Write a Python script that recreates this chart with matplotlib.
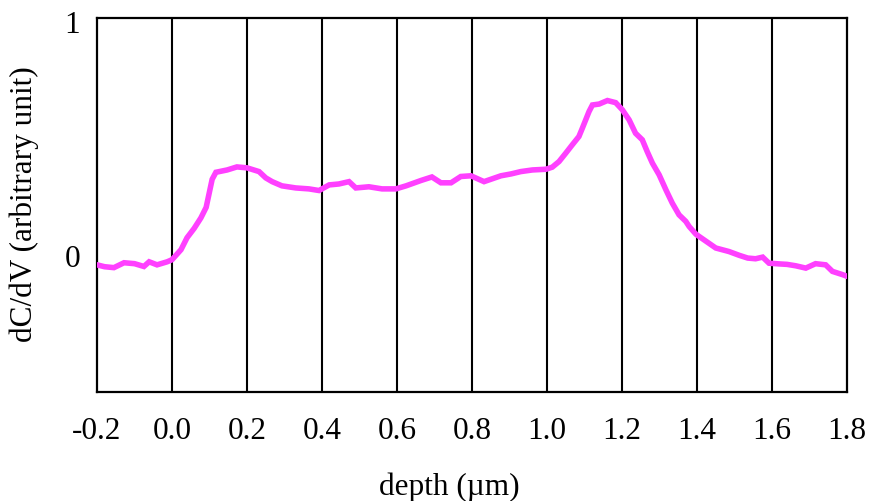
import matplotlib
matplotlib.use("Agg")
import matplotlib.pyplot as plt
import matplotlib.transforms as mtransforms

# C-V profile derivative versus depth
depth_um = [
    -0.200, -0.180, -0.155, -0.128, -0.100, -0.075, -0.061, -0.040, -0.013, 0.000,
    0.024, 0.040, 0.059, 0.077, 0.091, 0.099, 0.107, 0.117, 0.147, 0.173,
    0.200, 0.232, 0.250, 0.267, 0.293, 0.330, 0.365, 0.392, 0.419, 0.445,
    0.472, 0.490, 0.525, 0.560, 0.597, 0.624, 0.664, 0.693, 0.717, 0.744,
    0.770, 0.797, 0.832, 0.877, 0.904, 0.930, 0.961, 0.997, 1.014, 1.032,
    1.050, 1.067, 1.085, 1.094, 1.103, 1.112, 1.121, 1.139, 1.161, 1.183,
    1.201, 1.219, 1.236, 1.254, 1.267, 1.281, 1.299, 1.317, 1.334, 1.352,
    1.370, 1.379, 1.397, 1.423, 1.450, 1.485, 1.512, 1.535, 1.556, 1.575,
    1.592, 1.619, 1.640, 1.663, 1.690, 1.716, 1.743, 1.761, 1.788, 1.800,
]
dcdv = [
    -0.056, -0.064, -0.068, -0.047, -0.051, -0.063, -0.043, -0.056, -0.043, -0.034,
    0.009, 0.060, 0.100, 0.145, 0.190, 0.250, 0.310, 0.340, 0.350, 0.363,
    0.359, 0.343, 0.316, 0.300, 0.282, 0.273, 0.269, 0.262, 0.286, 0.290,
    0.300, 0.273, 0.278, 0.269, 0.269, 0.282, 0.305, 0.320, 0.295, 0.295,
    0.322, 0.325, 0.300, 0.325, 0.333, 0.343, 0.350, 0.353, 0.362, 0.386,
    0.422, 0.457, 0.493, 0.528, 0.564, 0.600, 0.628, 0.632, 0.647, 0.638,
    0.607, 0.564, 0.507, 0.479, 0.429, 0.379, 0.329, 0.265, 0.208, 0.158,
    0.130, 0.108, 0.075, 0.046, 0.016, 0.001, -0.015, -0.027, -0.030, -0.023,
    -0.049, -0.052, -0.054, -0.060, -0.070, -0.051, -0.056, -0.084, -0.098, -0.105,
]

x_ticks = [-0.2, 0.0, 0.2, 0.4, 0.6, 0.8, 1.0, 1.2, 1.4, 1.6, 1.8]
x_tick_labels = ["-0.2", "0.0", "0.2", "0.4", "0.6", "0.8", "1.0", "1.2", "1.4", "1.6", "1.8"]
y_ticks = [0, 1]
y_tick_labels = ["0", "1"]

plt.rcParams["font.family"] = ["Liberation Serif", "DejaVu Serif"]
FS = 22.5

fig = plt.figure(figsize=(8.71, 5.01), dpi=100)
ax = fig.add_axes([0.1114, 0.2176, 0.8611, 0.7464])

# vertical grid lines
for xv in x_ticks[1:-1]:
    ax.axvline(xv, color="black", linewidth=1.5, zorder=1)

ax.plot(depth_um, dcdv, color="#ff40ff", linewidth=4.0, zorder=3,
        solid_joinstyle="miter")

ax.set_xlim(-0.2, 1.8)
ax.set_ylim(-0.6, 1.0)
ax.set_xticks(x_ticks)
ax.set_xticklabels(x_tick_labels)
ax.set_yticks(y_ticks)
ax.set_yticklabels(y_tick_labels)
ax.tick_params(axis="x", length=0, pad=18, labelsize=FS)
ax.tick_params(axis="y", length=0, pad=12, labelsize=FS)

# nudge the y labels slightly downward
shift = mtransforms.ScaledTranslation(0, -4 / 100, fig.dpi_scale_trans)
for lbl in ax.get_yticklabels():
    lbl.set_transform(lbl.get_transform() + shift)

for sp in ax.spines.values():
    sp.set_color("black")
    sp.set_linewidth(1.6)

fig.text(449 / 871, 14 / 501, "depth (\u00b5m)", ha="center", va="center", fontsize=FS)
fig.text(24 / 871, (501 - 204) / 501, "dC/dV (arbitrary unit)", ha="center", va="center",
         rotation=90, fontsize=FS)

fig.savefig("out.png", dpi=100)
